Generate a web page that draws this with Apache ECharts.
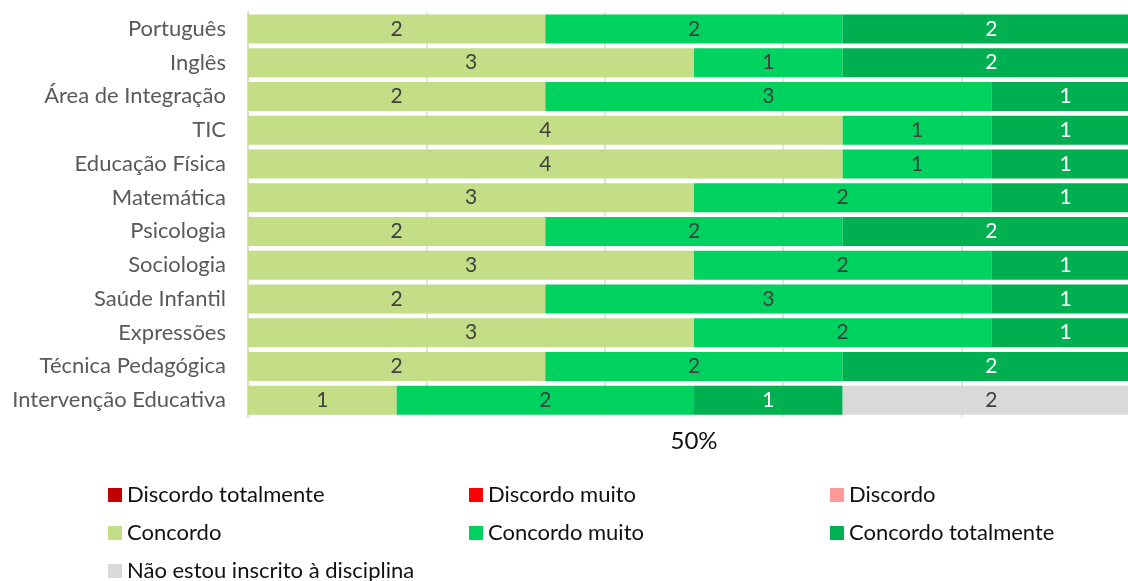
<!DOCTYPE html>
<html>
<head>
<meta charset="utf-8">
<script src="https://cdn.jsdelivr.net/npm/echarts@6/dist/echarts.min.js"></script>
<style>
  html, body { margin: 0; padding: 0; background: #fff; overflow: hidden; }
  /* plot runs past the right edge of the window, as in the original */
  #chart { width: 1140px; height: 581px; }
</style>
</head>
<body>
<div id="chart"></div>
<script>
const categories = ['Português', 'Inglês', 'Área de Integração', 'TIC', 'Educação Física', 'Matemática',
    'Psicologia', 'Sociologia', 'Saúde Infantil', 'Expressões', 'Técnica Pedagógica', 'Intervenção Educativa'];

const discordoTotalmente = [0, 0, 0, 0, 0, 0, 0, 0, 0, 0, 0, 0];
const discordoMuito = [0, 0, 0, 0, 0, 0, 0, 0, 0, 0, 0, 0];
const discordo = [0, 0, 0, 0, 0, 0, 0, 0, 0, 0, 0, 0];
const concordo = [2, 3, 2, 4, 4, 3, 2, 3, 2, 3, 2, 1];
const concordoMuito = [2, 1, 3, 1, 1, 2, 2, 2, 3, 2, 2, 2];
const concordoTotalmente = [2, 2, 1, 1, 1, 1, 2, 1, 1, 1, 2, 1];
const naoInscrito = [0, 0, 0, 0, 0, 0, 0, 0, 0, 0, 0, 2];

const FONT = 'Lato';

const chart = echarts.init(document.getElementById('chart'));

const makeSeries = (name, data, color, labelColor) => ({
    name: name,
    type: 'bar',
    stack: 'total',
    data: data,
    barWidth: 29,
    itemStyle: { color: color },
    label: {
        show: true,
        position: 'inside',
        color: labelColor,
        fontFamily: FONT,
        fontSize: 21,
        formatter: (p) => (p.value ? String(p.value) : '')
    }
});

const legendText = { color: '#111', fontFamily: FONT, fontSize: 22, lineHeight: 20 };

// one legend per column so the three columns line up
const legendCol = (left, names) => ({
    orient: 'vertical', left: left, top: 484, height: 140, padding: 0,
    itemGap: 16, itemWidth: 14, itemHeight: 14,
    icon: 'rect', textStyle: legendText, data: names
});

const option = {
    animation: false,
    backgroundColor: '#fff',
    grid: { left: 248, top: 12, right: 0, height: 405 },
    xAxis: {
        type: 'value',
        min: 0,
        max: 6,
        interval: 1.2,
        name: '50%',
        nameLocation: 'middle',
        nameGap: 12,
        nameTextStyle: { color: '#111', fontFamily: FONT, fontSize: 24, verticalAlign: 'top' },
        axisLabel: { show: false },
        axisLine: { show: false },
        axisTick: { show: false },
        splitLine: { lineStyle: { color: '#d9d9d9', width: 1.5 } }
    },
    yAxis: {
        type: 'category',
        data: categories,
        inverse: true,
        axisLine: { lineStyle: { color: '#d9d9d9', width: 2 } },
        axisTick: { show: false },
        axisLabel: { color: '#595959', fontFamily: FONT, fontSize: 22, margin: 22 }
    },
    legend: [
        legendCol(108, ['Discordo totalmente', 'Concordo', 'Não estou inscrito à disciplina']),
        legendCol(469, ['Discordo muito', 'Concordo muito']),
        legendCol(830, ['Discordo', 'Concordo totalmente'])
    ],
    series: [
        makeSeries('Discordo totalmente', discordoTotalmente, '#c00000', '#fff'),
        makeSeries('Discordo muito', discordoMuito, '#ff0000', '#fff'),
        makeSeries('Discordo', discordo, '#ff9999', '#404040'),
        makeSeries('Concordo', concordo, '#c4dd87', '#404040'),
        makeSeries('Concordo muito', concordoMuito, '#00d25f', '#404040'),
        makeSeries('Concordo totalmente', concordoTotalmente, '#00b050', '#fff'),
        makeSeries('Não estou inscrito à disciplina', naoInscrito, '#d9d9d9', '#404040')
    ]
};

chart.setOption(option);
window.addEventListener('resize', () => chart.resize());
</script>
</body>
</html>
